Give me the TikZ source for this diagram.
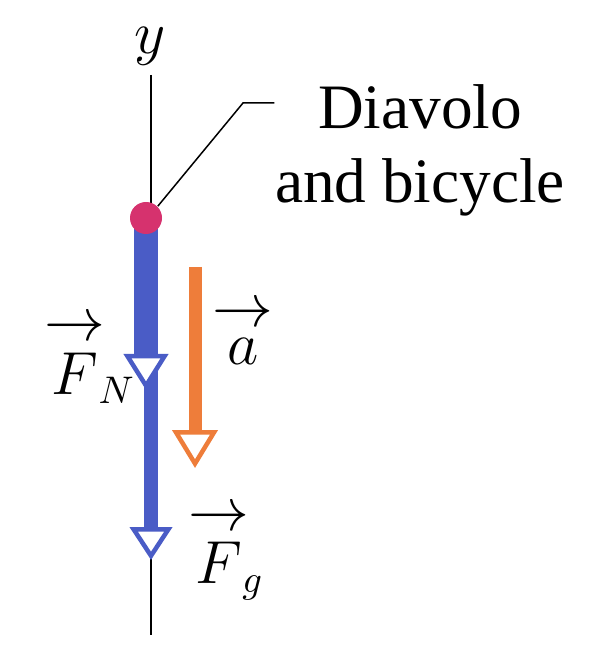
\documentclass[tikz,border=0pt]{standalone}
\usepackage{amsmath}
\usepackage{fontspec}
\setmainfont{Liberation Serif}
\usetikzlibrary{arrows.meta,positioning}
\definecolor{forceblue}{RGB}{74,92,198}
\definecolor{accorange}{RGB}{238,125,58}
\definecolor{bodypink}{RGB}{214,50,110}
\newcommand{\arrvec}[1]{\overset{\textstyle\rightarrow}{#1}}

\begin{document}
\begin{tikzpicture}[x=0.1mm, y=-0.1mm, font=\fontsize{18}{21}\selectfont]
	\tikzstyle{vec}=[line cap=butt]
	\tikzstyle{lbl}=[inner sep=0pt, font=\fontsize{16}{19}\selectfont]
	\useasboundingbox (0,0) rectangle (596,664);
	% y axis
	\coordinate (ytop) at (151,75);
	\coordinate (ybot) at (151,635);
	\draw[line width=0.2mm] (ytop) -- (ybot);
	\node[lbl] (ylab) at (150,46) {$y$};
	% force and acceleration vectors
	\coordinate (pt) at (146,218);
	\coordinate (fgtail) at (151,218);
	\coordinate (fgtip) at (151,560);
	\coordinate (fntip) at (146,390);
	\coordinate (atop) at (195,267);
	\coordinate (atip) at (195,468);
	\draw[vec, forceblue, line width=1.4mm, -{Triangle[fill=white, length=3.3mm, width=4.2mm, line width=0.45mm]}] (fgtail) -- (fgtip);
	\draw[vec, forceblue, line width=2.4mm, -{Triangle[fill=white, length=3.6mm, width=4.4mm, line width=0.45mm]}] (pt) -- (fntip);
	\draw[vec, accorange, line width=1.3mm, -{Triangle[fill=white, length=3.8mm, width=4.5mm, line width=0.45mm]}] (atop) -- (atip);
	\node[circle, fill=bodypink, minimum size=3.2mm, inner sep=0pt] (body) at (pt) {};
	% labels
	\node[lbl] (fnlab) at (90,358) {$\arrvec{F}_{\!N}$};
	\node[lbl] (alab) at (243,331) {$\arrvec{a}$};
	\node[lbl] (fglab) at (226,551) {$\arrvec{F}_{\!g}$};
	\node[align=center, inner sep=0pt] (name) at (420,150) {Diavolo\\and bicycle};
	\coordinate (bend) at (243,103);
	\draw[line width=0.15mm] (body.north east) -- (bend) -- (bend -| name.west);
\end{tikzpicture}
\end{document}
